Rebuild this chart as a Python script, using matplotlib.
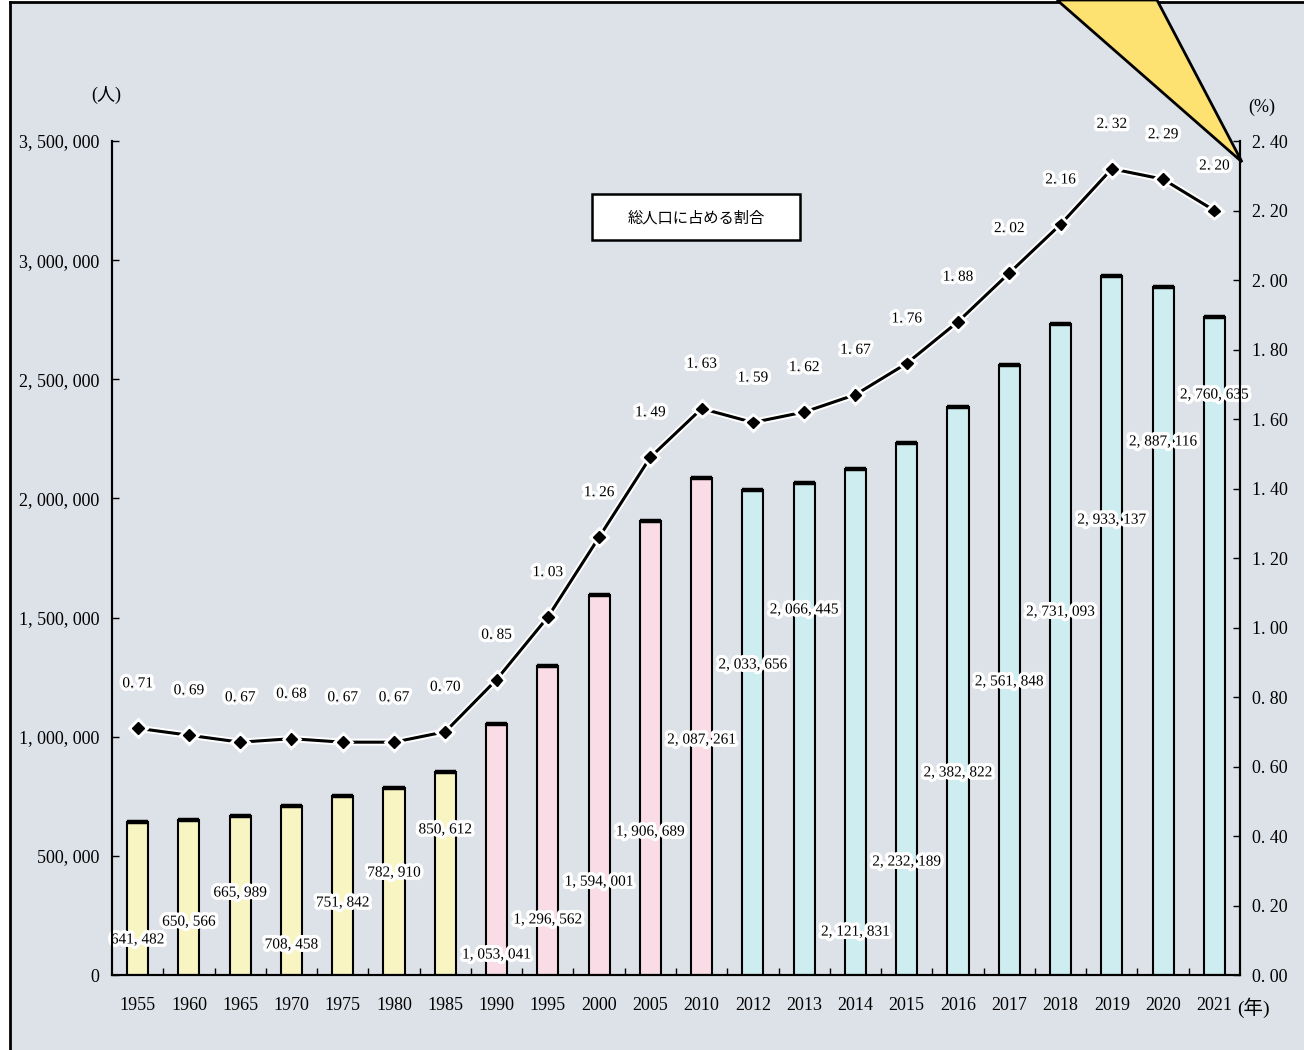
import matplotlib
matplotlib.use('Agg')
import matplotlib.pyplot as plt
import matplotlib.patheffects as pe
from matplotlib.patches import Rectangle, Polygon
from matplotlib.lines import Line2D

plt.rcParams['font.family'] = ['Liberation Serif', 'Noto Sans CJK JP', 'DejaVu Sans']

# data
years = ['1955', '1960', '1965', '1970', '1975', '1980', '1985', '1990', '1995', '2000',
         '2005', '2010', '2012', '2013', '2014', '2015', '2016', '2017', '2018', '2019',
         '2020', '2021']
population = [641482, 650566, 665989, 708458, 751842, 782910, 850612, 1053041, 1296562,
              1594001, 1906689, 2087261, 2033656, 2066445, 2121831, 2232189, 2382822,
              2561848, 2731093, 2933137, 2887116, 2760635]
share = [0.71, 0.69, 0.67, 0.68, 0.67, 0.67, 0.70, 0.85, 1.03, 1.26, 1.49, 1.63, 1.59,
         1.62, 1.67, 1.76, 1.88, 2.02, 2.16, 2.32, 2.29, 2.20]
# where each bar value label sits (left-axis units)
label_y = [147000, 222000, 344000, 126000, 302000, 428000, 609000, 84000, 231000, 390000,
           600000, 986000, 1301000, 1532000, 180000, 474000, 848000, 1230000, 1523000,
           1909000, 2237000, 2434000]

bg = '#dde2e9'
colors = ['#f8f5c2'] * 7 + ['#f9dce6'] * 5 + ['#cdedf1'] * 10

fig = plt.figure(figsize=(13.04, 10.5), dpi=100, facecolor='white')
W, H = 1304, 1050

# background frame
fig.patches.append(Rectangle((10 / W, 0), 1.0, 1 - 2 / H, transform=fig.transFigure,
                             facecolor=bg, edgecolor='none', zorder=-5))
fig.lines.append(Line2D([10 / W, 10 / W], [0, 1 - 2 / H], transform=fig.transFigure,
                        color='black', lw=2, zorder=-4))
fig.lines.append(Line2D([10 / W, 1], [1 - 2 / H, 1 - 2 / H], transform=fig.transFigure,
                        color='black', lw=2, zorder=-4))

ax = fig.add_axes([112 / W, 1 - 975 / H, (1240 - 112) / W, (975 - 141) / H])
ax.patch.set_alpha(0)
ax2 = ax.twinx()

x = list(range(len(years)))
ax.bar(x, population, width=0.41, color=colors, edgecolor='black', linewidth=1.5, zorder=2)
ax.hlines(population, [i - 0.205 for i in x], [i + 0.205 for i in x], color='black', lw=3.2, zorder=3)

glow = [pe.withStroke(linewidth=5, foreground='white')]
for i, v in enumerate(population):
    ax.text(i, label_y[i], '{:,}'.format(v).replace(',', ', '), ha='center', va='center',
            fontsize=11, zorder=5, path_effects=glow)

ax.set_xlim(-0.5, len(years) - 0.5)
ax.set_ylim(0, 3500000)
ax.set_yticks(range(0, 3500001, 500000))
ax.set_yticklabels(['0'] + ['{:,}'.format(v).replace(',', ', ') for v in range(500000, 3500001, 500000)],
                   fontsize=13)
ax.set_xticks(x)
ax.set_xticklabels(years, fontsize=13)
ax.set_xticks([i + 0.5 for i in x[:-1]], minor=True)
ax.tick_params(axis='x', which='major', length=0, pad=16)
ax.tick_params(axis='x', which='minor', direction='in', length=5, width=1)
ax.tick_params(axis='y', direction='in', length=5, width=1, pad=9)

ax2.plot(x, share, color='black', lw=2.2, marker='D', markersize=6, zorder=4,
         path_effects=[pe.withStroke(linewidth=5, foreground='white')])
for i, v in enumerate(share):
    ax2.annotate('{:.2f}'.format(v).replace('.', '. '), (i, v), xytext=(0, 32),
                 textcoords='offset points', ha='center', va='center', fontsize=11,
                 annotation_clip=False, path_effects=glow)
ax2.set_ylim(0, 2.4)
ax2.set_yticks([i * 0.2 for i in range(13)])
ax2.set_yticklabels(['{:.2f}'.format(i * 0.2).replace('.', '. ') for i in range(13)], fontsize=13)
ax2.tick_params(axis='y', direction='in', length=5, width=1, pad=9)

for a in (ax, ax2):
    a.spines['top'].set_visible(False)
    for s in ('left', 'right', 'bottom'):
        a.spines[s].set_linewidth(1.5)

fig.text(106 / W, 1 - 95 / H, '(人)', ha='center', va='center', fontsize=13)
fig.text(1262 / W, 1 - 107 / H, '(%)', ha='center', va='center', fontsize=13)
fig.text(1253 / W, 1 - 1008 / H, '(年)', ha='center', va='center', fontsize=14)

# legend-like label box
fig.patches.append(Rectangle((592 / W, 1 - 240 / H), 208 / W, 46 / H, transform=fig.transFigure,
                             facecolor='white', edgecolor='black', lw=1.8, zorder=6))
fig.text(696 / W, 1 - 218 / H, '総人口に占める割合', ha='center', va='center', fontsize=11,
         family=['Noto Sans CJK JP'], zorder=7)

# yellow callout pointer
fig.patches.append(Polygon([(1057 / W, 1.0), (1157 / W, 1.0), (1242 / W, 1 - 162 / H)],
                           closed=True, transform=fig.transFigure, facecolor='#fde272',
                           edgecolor='black', lw=2, zorder=10))

fig.savefig('out.png', dpi=100)
